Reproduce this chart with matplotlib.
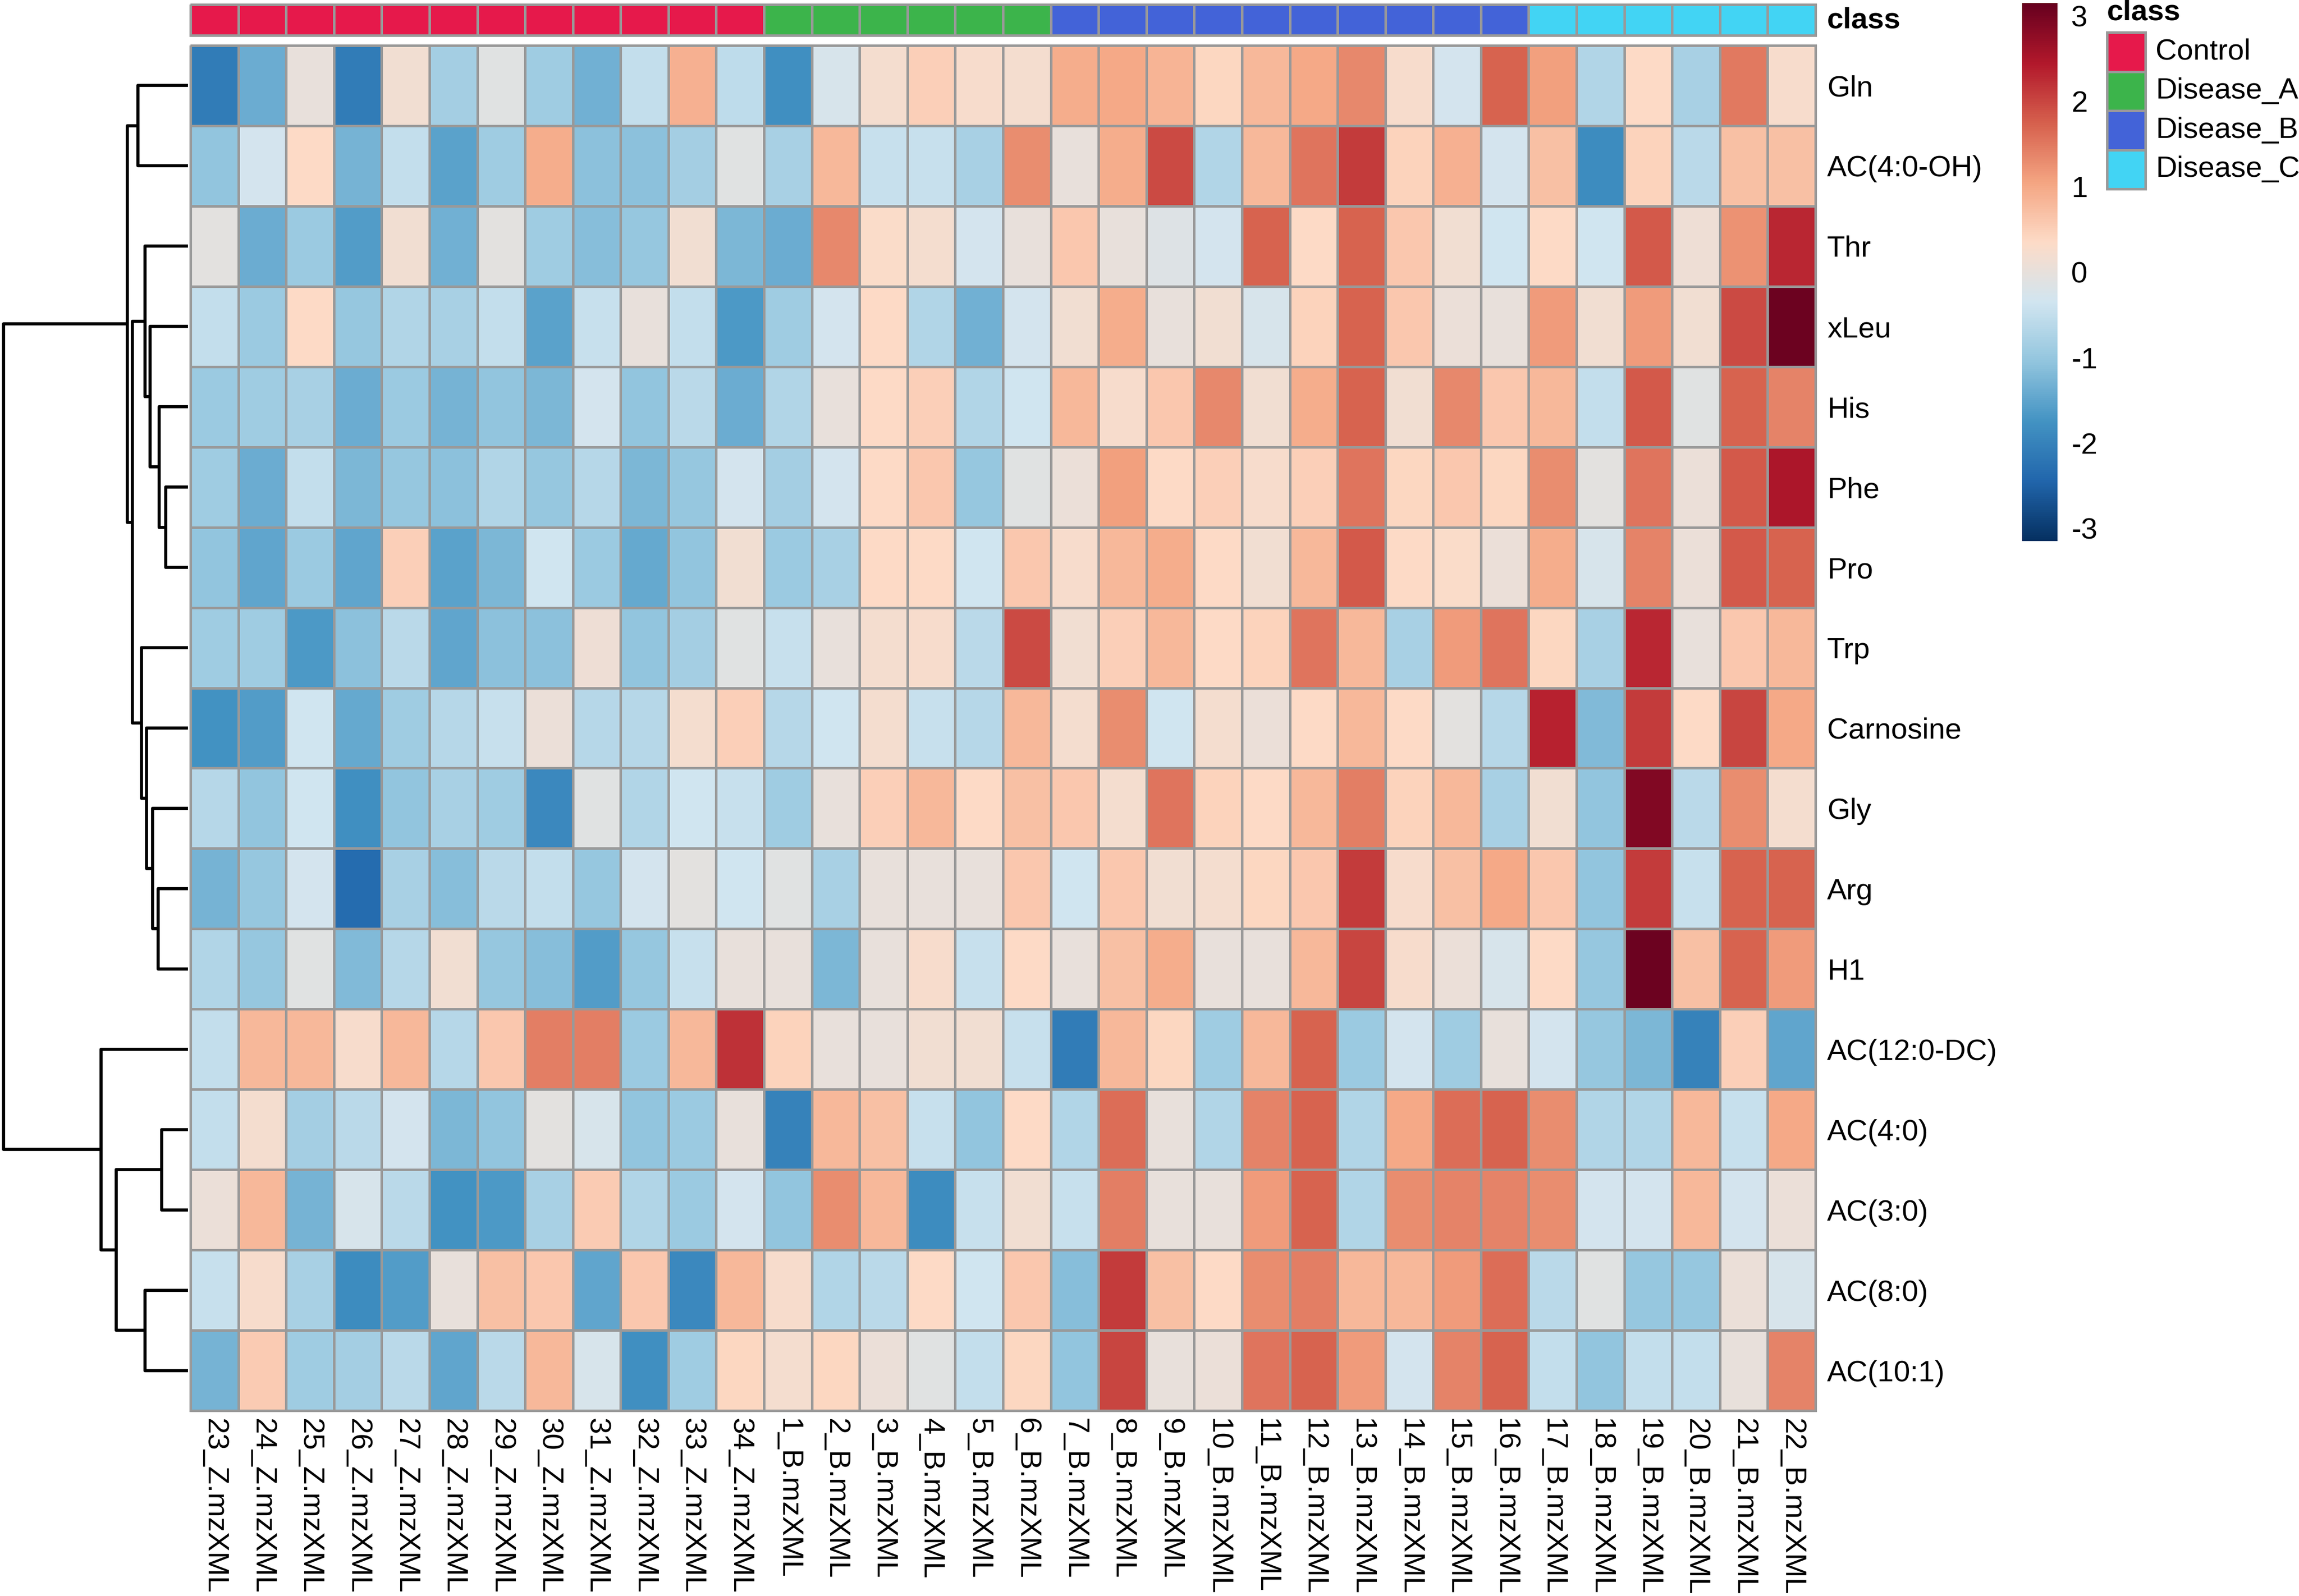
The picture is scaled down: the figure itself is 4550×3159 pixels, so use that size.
import numpy as np
import matplotlib

matplotlib.use("Agg")
import matplotlib.pyplot as plt
from matplotlib.colors import LinearSegmentedColormap, ListedColormap, Normalize
from matplotlib.patches import Rectangle
from matplotlib.cm import ScalarMappable

plt.rcParams["font.family"] = ["Liberation Sans", "DejaVu Sans"]
plt.rcParams["axes.unicode_minus"] = False

# ---- data -------------------------------------------------------------
features = ["Gln", "AC(4:0-OH)", "Thr", "xLeu", "His", "Phe", "Pro", "Trp",
            "Carnosine", "Gly", "Arg", "H1", "AC(12:0-DC)", "AC(4:0)",
            "AC(3:0)", "AC(8:0)", "AC(10:1)"]

samples = ["23_Z.mzXML", "24_Z.mzXML", "25_Z.mzXML", "26_Z.mzXML", "27_Z.mzXML",
           "28_Z.mzXML", "29_Z.mzXML", "30_Z.mzXML", "31_Z.mzXML", "32_Z.mzXML",
           "33_Z.mzXML", "34_Z.mzXML", "1_B.mzXML", "2_B.mzXML", "3_B.mzXML",
           "4_B.mzXML", "5_B.mzXML", "6_B.mzXML", "7_B.mzXML", "8_B.mzXML",
           "9_B.mzXML", "10_B.mzXML", "11_B.mzXML", "12_B.mzXML", "13_B.mzXML",
           "14_B.mzXML", "15_B.mzXML", "16_B.mzXML", "17_B.mzXML", "18_B.mzXML",
           "19_B.mzXML", "20_B.mzXML", "21_B.mzXML", "22_B.mzXML"]

classes = ["Control", "Disease_A", "Disease_B", "Disease_C"]
class_sizes = [12, 6, 10, 6]
class_colors = ["#E6194B", "#3CB44B", "#4363D8", "#42D4F4"]

gln = [-2.1, -1.4, 0.0, -2.1, 0.15, -0.85, -0.1, -0.9, -1.35, -0.5, 0.9, -0.55,
       -1.8, -0.25, 0.2, 0.5, 0.25, 0.2,
       0.95, 1.0, 0.85, 0.4, 0.8, 1.0, 1.35, 0.25, -0.3, 1.7,
       1.1, -0.7, 0.35, -0.8, 1.5, 0.25]
ac4oh = [-1.05, -0.3, 0.35, -1.3, -0.5, -1.55, -0.9, 0.95, -1.1, -1.1, -0.85, -0.1,
         -0.8, 0.8, -0.45, -0.45, -0.8, 1.3,
         0.0, 0.95, 1.95, -0.7, 0.8, 1.55, 2.1, 0.45, 0.9, -0.3,
         0.7, -1.85, 0.45, -0.6, 0.7, 0.7]
thr = [-0.05, -1.4, -0.95, -1.6, 0.15, -1.35, -0.05, -0.9, -1.15, -1.0, 0.15, -1.25,
       -1.4, 1.35, 0.3, 0.2, -0.3, 0.0,
       0.6, 0.0, -0.15, -0.3, 1.7, 0.35, 1.7, 0.6, 0.15, -0.35,
       0.35, -0.35, 1.8, 0.1, 1.25, 2.3]
xleu = [-0.5, -0.95, 0.35, -1.0, -0.7, -0.8, -0.5, -1.55, -0.45, 0.0, -0.5, -1.65,
        -0.9, -0.3, 0.35, -0.7, -1.35, -0.3,
        0.15, 0.95, 0.0, 0.15, -0.25, 0.45, 1.7, 0.6, 0.05, 0.0,
        1.15, 0.15, 1.15, 0.15, 1.95, 3.1]
his = [-0.95, -0.9, -0.8, -1.4, -0.95, -1.3, -1.05, -1.25, -0.3, -1.05, -0.6, -1.4,
       -0.7, 0.0, 0.35, 0.5, -0.7, -0.35,
       0.8, 0.25, 0.6, 1.35, 0.15, 0.95, 1.7, 0.15, 1.35, 0.6,
       0.8, -0.5, 1.8, -0.1, 1.7, 1.4]
phe = [-0.9, -1.4, -0.5, -1.25, -1.0, -1.1, -0.7, -1.0, -0.65, -1.25, -1.0, -0.3,
       -0.85, -0.3, 0.35, 0.6, -1.0, -0.1,
       0.05, 1.1, 0.35, 0.5, 0.25, 0.5, 1.55, 0.4, 0.6, 0.4,
       1.3, -0.05, 1.55, 0.05, 1.8, 2.5]
pro = [-1.05, -1.5, -0.95, -1.5, 0.5, -1.55, -1.25, -0.35, -0.95, -1.45, -1.05, 0.15,
       -0.95, -0.8, 0.35, 0.35, -0.35, 0.6,
       0.25, 0.8, 0.95, 0.35, 0.15, 0.8, 1.8, 0.35, 0.3, 0.05,
       0.95, -0.25, 1.4, 0.05, 1.8, 1.7]
trp = [-0.9, -0.9, -1.65, -1.1, -0.6, -1.5, -1.1, -1.1, 0.1, -1.05, -0.85, -0.1,
       -0.45, 0.0, 0.2, 0.25, -0.6, 1.95,
       0.15, 0.5, 0.8, 0.35, 0.45, 1.55, 0.8, -0.8, 1.15, 1.55,
       0.4, -0.8, 2.3, 0.0, 0.6, 0.8]
carnosine = [-1.75, -1.6, -0.35, -1.45, -0.9, -0.65, -0.45, 0.05, -0.65, -0.65, 0.2, 0.5,
             -0.65, -0.35, 0.2, -0.45, -0.65, 0.8,
             0.2, 1.3, -0.35, 0.2, 0.05, 0.35, 0.8, 0.35, -0.05, -0.65,
             2.35, -1.2, 2.1, 0.35, 2.0, 1.0]
gly = [-0.65, -1.05, -0.35, -1.8, -1.05, -0.8, -0.9, -1.9, -0.1, -0.7, -0.35, -0.45,
       -0.9, 0.0, 0.5, 0.8, 0.35, 0.7,
       0.6, 0.2, 1.55, 0.45, 0.35, 0.8, 1.45, 0.45, 0.8, -0.8,
       0.15, -1.05, 2.9, -0.6, 1.3, 0.2]
arg = [-1.3, -1.0, -0.3, -2.35, -0.8, -1.15, -0.6, -0.5, -1.0, -0.3, -0.05, -0.35,
       -0.1, -0.8, 0.0, 0.0, 0.0, 0.6,
       -0.35, 0.6, 0.15, 0.2, 0.4, 0.6, 2.1, 0.25, 0.7, 1.0,
       0.6, -1.05, 2.1, -0.45, 1.7, 1.7]
h1 = [-0.7, -1.0, -0.1, -1.2, -0.65, 0.15, -1.0, -1.15, -1.6, -1.0, -0.45, 0.0,
      0.0, -1.25, 0.0, 0.25, -0.45, 0.35,
      0.0, 0.7, 0.95, 0.0, 0.0, 0.8, 2.0, 0.25, 0.05, -0.25,
      0.35, -1.0, 3.1, 0.7, 1.7, 1.15]
ac12dc = [-0.5, 0.8, 0.8, 0.25, 0.8, -0.65, 0.6, 1.45, 1.45, -0.95, 0.8, 2.2,
          0.45, 0.0, 0.0, 0.15, 0.15, -0.45,
          -2.1, 0.8, 0.4, -0.9, 0.8, 1.7, -0.95, -0.3, -0.9, 0.0,
          -0.3, -1.0, -1.25, -2.0, 0.5, -1.5]
ac4 = [-0.5, 0.2, -0.85, -0.6, -0.3, -1.25, -1.05, -0.05, -0.25, -1.05, -0.95, 0.0,
       -2.0, 0.8, 0.7, -0.45, -1.05, 0.35,
       -0.7, 1.6, 0.0, -0.7, 1.4, 1.7, -0.7, 1.0, 1.6, 1.7,
       1.3, -0.7, -0.7, 0.8, -0.45, 1.0]
ac3 = [0.05, 0.8, -1.3, -0.25, -0.6, -1.75, -1.65, -0.8, 0.55, -0.7, -0.95, -0.3,
       -1.05, 1.3, 0.8, -1.85, -0.45, 0.15,
       -0.45, 1.45, 0.0, 0.0, 1.15, 1.7, -0.7, 1.3, 1.4, 1.4,
       1.3, -0.3, -0.3, 0.8, -0.3, 0.05]
ac8 = [-0.45, 0.25, -0.8, -1.85, -1.6, 0.0, 0.7, 0.6, -1.5, 0.6, -1.9, 0.8,
       0.25, -0.7, -0.6, 0.35, -0.35, 0.6,
       -1.15, 2.1, 0.7, 0.35, 1.3, 1.45, 0.8, 0.8, 1.15, 1.6,
       -0.6, -0.1, -1.0, -1.0, 0.05, -0.25]
ac101 = [-1.3, 0.55, -0.9, -0.85, -0.6, -1.5, -0.6, 0.8, -0.25, -1.8, -0.9, 0.4,
         0.2, 0.4, 0.05, -0.1, -0.5, 0.4,
         -1.05, 2.0, 0.0, 0.05, 1.55, 1.7, 1.15, -0.3, 1.4, 1.7,
         -0.5, -1.05, -0.5, -0.5, 0.0, 1.4]

# row dendrogram: (left, right, height); leaves 0..16, new nodes from 17
merges = [(5, 6, 1.21), (4, 17, 1.56), (3, 18, 2.05), (2, 19, 2.33),
          (10, 11, 1.62), (9, 21, 1.92), (8, 22, 2.25), (7, 23, 2.52),
          (20, 24, 3.01), (0, 1, 2.71), (26, 25, 3.29),
          (13, 14, 1.42), (15, 16, 2.33), (28, 29, 3.89), (12, 30, 4.71),
          (27, 31, 10.0)]

values = np.array([gln, ac4oh, thr, xleu, his, phe, pro, trp, carnosine, gly,
                   arg, h1, ac12dc, ac4, ac3, ac8, ac101])
class_idx = np.repeat(np.arange(len(classes)), class_sizes)

# ---- figure -------------------------------------------------------------
W, H, DPI = 4550, 3159, 300
fig = plt.figure(figsize=(W / DPI, H / DPI), dpi=DPI)


def px_axes(x0, y0, x1, y1):
    return fig.add_axes([x0 / W, 1 - y1 / H, (x1 - x0) / W, (y1 - y0) / H])


rdbu = ["#053061", "#2166AC", "#4393C3", "#92C5DE", "#D1E5F0",
        "#FDDBC7", "#F4A582", "#D6604D", "#B2182B", "#67001F"]
cmap = LinearSegmentedColormap.from_list("rdbu10", rdbu, N=256)
norm = Normalize(vmin=-3.15, vmax=3.15)
grid = "#999999"

# heatmap
ax = px_axes(377, 90, 3593, 2792)
mesh = ax.pcolormesh(values, cmap=cmap, norm=norm, edgecolors=grid, linewidth=1.2)
mesh.set_clip_on(False)
ax.set_xlim(0, values.shape[1])
ax.set_ylim(values.shape[0], 0)
for s in ax.spines.values():
    s.set_visible(False)
ax.set_xticks(np.arange(len(samples)) + 0.5)
ax.set_xticklabels(samples, rotation=270, ha="center", va="top", fontsize=14)
ax.set_yticks(np.arange(len(features)) + 0.5)
ax.set_yticklabels(features, fontsize=14)
ax.yaxis.tick_right()
ax.tick_params(axis="x", length=0, pad=3.5)
ax.tick_params(axis="y", length=0, pad=5.5)

# class annotation bar
aax = px_axes(377, 9, 3593, 70)
amesh = aax.pcolormesh(class_idx[None, :], cmap=ListedColormap(class_colors),
                       vmin=-0.5, vmax=len(classes) - 0.5,
                       edgecolors=grid, linewidth=1.2)
amesh.set_clip_on(False)
aax.set_xlim(0, len(samples))
aax.set_ylim(1, 0)
aax.axis("off")
fig.text(3616 / W, 1 - 40 / H, "class", fontsize=14, fontweight="bold",
         ha="left", va="center")

# row dendrogram
dax = px_axes(3, 90, 372, 2792)
n = len(features)
pos = {i: i + 0.5 for i in range(n)}
hgt = {i: 0.0 for i in range(n)}
for k, (a, b, h) in enumerate(merges):
    node = n + k
    dax.plot([hgt[a], h, h, hgt[b]], [pos[a], pos[a], pos[b], pos[b]],
             color="black", lw=1.5, solid_capstyle="butt", clip_on=False)
    pos[node] = (pos[a] + pos[b]) / 2
    hgt[node] = h
dax.set_xlim(max(m[2] for m in merges) * 1.01, 0)
dax.set_ylim(n, 0)
dax.axis("off")

# colour bar
cax = px_axes(4002, 6, 4072, 1071)
cb = fig.colorbar(ScalarMappable(norm=norm, cmap=cmap), cax=cax)
cb.set_ticks([-3, -2, -1, 0, 1, 2, 3])
cb.ax.tick_params(length=0, labelsize=14, pad=6.5)
cb.outline.set_visible(False)

# class legend
lax = px_axes(4170, 0, 4550, 420)
lax.set_xlim(0, 380)
lax.set_ylim(420, 0)
lax.axis("off")
lax.text(0, 25, "class", fontsize=14, fontweight="bold", ha="left", va="center")
box_h = 77.5
for i, (name, col) in enumerate(zip(classes, class_colors)):
    y0 = 64 + box_h * i
    lax.add_patch(Rectangle((0, y0), 76, box_h, facecolor=col, edgecolor=grid,
                            lw=1.2, clip_on=False))
    lax.text(96, y0 + box_h / 2, name, fontsize=14, ha="left", va="center")

fig.savefig("out.png", dpi=DPI)
